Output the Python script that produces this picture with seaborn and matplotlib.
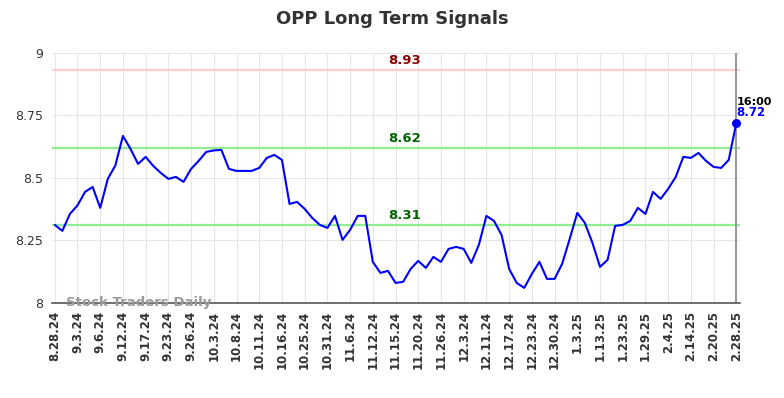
import pandas as pd
import numpy as np
import matplotlib
matplotlib.use("Agg")
import matplotlib.pyplot as plt
import seaborn as sns

# closing prices, one per session shown on the chart
precios = [8.312, 8.288, 8.356, 8.39, 8.444, 8.464, 8.38, 8.496, 8.55, 8.668,
           8.616, 8.556, 8.584, 8.548, 8.52, 8.496, 8.504, 8.484, 8.536, 8.568,
           8.604, 8.61, 8.612, 8.536, 8.528, 8.528, 8.528, 8.54, 8.58, 8.592,
           8.572, 8.396, 8.404, 8.376, 8.34, 8.312, 8.30, 8.348, 8.252, 8.292,
           8.348, 8.348, 8.164, 8.12, 8.128, 8.08, 8.084, 8.136, 8.168, 8.14,
           8.184, 8.164, 8.216, 8.224, 8.216, 8.16, 8.232, 8.348, 8.328, 8.272,
           8.136, 8.08, 8.06, 8.116, 8.164, 8.096, 8.096, 8.156, 8.256, 8.36,
           8.32, 8.24, 8.144, 8.172, 8.308, 8.312, 8.328, 8.38, 8.356, 8.444,
           8.416, 8.456, 8.504, 8.584, 8.58, 8.60, 8.568, 8.544, 8.54, 8.572,
           8.72]

etiquetas_x = ["8.28.24", "9.3.24", "9.6.24", "9.12.24", "9.17.24", "9.23.24",
               "9.26.24", "10.3.24", "10.8.24", "10.11.24", "10.16.24", "10.25.24",
               "10.31.24", "11.6.24", "11.12.24", "11.15.24", "11.20.24", "11.26.24",
               "12.3.24", "12.11.24", "12.17.24", "12.23.24", "12.30.24", "1.3.25",
               "1.13.25", "1.23.25", "1.29.25", "2.4.25", "2.14.25", "2.20.25",
               "2.28.25"]

niveles = [8.93, 8.62, 8.31]
colores_linea = ["#ffcccc", "#90ee90", "#90ee90"]
colores_texto = ["#8b0000", "#006400", "#006400"]

df = pd.DataFrame({"idx": np.arange(len(precios)), "precio": precios})

sns.set_style("whitegrid", {"grid.color": "#e6e6e6"})
fig = plt.figure(figsize=(7.84, 3.98), dpi=100)
ax = fig.add_axes([0.066, 0.239, 0.878, 0.628])

for nivel, cl, ct in zip(niveles, colores_linea, colores_texto):
    ax.axhline(nivel, color=cl, lw=1.6, zorder=1)
    ax.text(46.2, nivel + 0.012, f"{nivel:.2f}", color=ct, fontsize=9.5,
            fontweight="bold", ha="center", va="bottom")

sns.lineplot(data=df, x="idx", y="precio", color="blue", lw=1.5, ax=ax, zorder=3)

ultimo = len(precios) - 1
ax.axvline(ultimo, color="#999999", lw=1.5, zorder=2)
ax.scatter([ultimo], [precios[-1]], color="blue", s=30, zorder=4)
ax.text(ultimo, precios[-1] + 0.062, "16:00", fontsize=8, fontweight="bold",
        color="black", ha="left", va="bottom")
ax.text(ultimo, precios[-1] + 0.015, f"{precios[-1]:.2f}", fontsize=8.5,
        fontweight="bold", color="blue", ha="left", va="bottom")

ax.text(1.5, 8.0, "Stock Traders Daily", fontsize=9.5, fontweight="bold",
        color="#999999", ha="left", va="center", zorder=5)

ax.set_xlim(-0.4, 90.5)
ax.set_ylim(8, 9)
ax.set_xticks(np.arange(0, len(precios), 3))
ax.set_xticklabels(etiquetas_x, rotation=90, fontsize=8.5, fontweight="bold",
                   color="#333333")
ax.set_yticks([8, 8.25, 8.5, 8.75, 9])
ax.set_yticklabels(["8", "8.25", "8.5", "8.75", "9"], fontsize=9, color="#333333")
ax.tick_params(axis="both", length=0, pad=6)
ax.set_xlabel("")
ax.set_ylabel("")
for lado in ["top", "left", "right"]:
    ax.spines[lado].set_visible(False)
ax.spines["bottom"].set_color("#555555")
ax.spines["bottom"].set_linewidth(1.2)

fig.suptitle("OPP Long Term Signals", x=0.5, y=0.975, fontsize=13,
             fontweight="bold", color="#333333")

fig.savefig("out.png", dpi=100)
